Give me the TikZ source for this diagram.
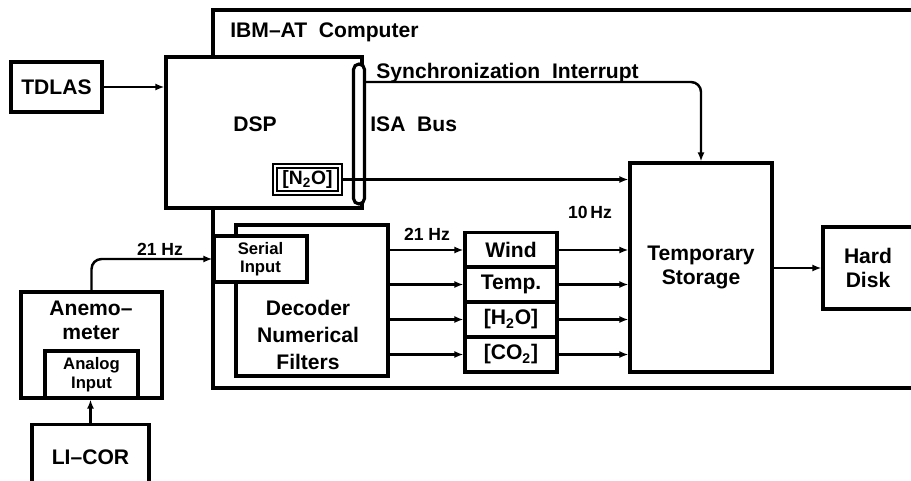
\documentclass[tikz,border=0pt]{standalone}
\usepackage{fontspec}
\setmainfont{Liberation Sans}
\usetikzlibrary{arrows.meta, positioning}

\begin{document}
\begin{tikzpicture}[
                x=0.02cm, y=-0.02cm,
                box/.style={draw, line width=1.8pt, fill=white, inner sep=0pt, align=center, font=\fontsize{12}{14}\selectfont\bfseries},
                smallbox/.style={box, font=\fontsize{9.5}{10.5}\selectfont\bfseries},
                lbl/.style={inner sep=0pt, font=\fontsize{12}{14}\selectfont\bfseries},
                freq/.style={inner sep=0pt, font=\fontsize{10}{11}\selectfont\bfseries},
                arrow/.style={-{Latex[length=0.18cm, width=0.14cm]}, line width=1.4pt}
            ]
                \useasboundingbox (0,0) rectangle (911,480);

                % Rahmen des Rechners
                \draw[line width=1.8pt] (915,10) -- (213,10) -- (213,388) -- (915,388);
                \node[lbl, anchor=west] (ibm) at (230,32) {IBM--AT\ \ Computer};

                % Eingang und DSP
                \node[box, minimum width=1.82cm, minimum height=1.0cm] (tdlas) at (56.5,87) {TDLAS};
                \node[box, minimum width=3.92cm, minimum height=3.02cm] (dsp) at (264,132.5) {};
                \node[lbl] (dsplabel) at (255,124) {DSP};
                \node[draw, line width=1.8pt, fill=white, rounded corners=0.11cm, minimum width=0.22cm, minimum height=2.8cm, inner sep=0pt] (isabus) at (359,134) {};
                \node[box, double, double distance=1.2pt, line width=1.1pt, minimum width=1.3cm, minimum height=0.54cm, font=\fontsize{11}{13}\selectfont\bfseries] (n2o) at (307.5,179.5) {[N\textsubscript{2}O]};
                \node[lbl, anchor=west] (isalabel) at (370,124) {ISA\ \ Bus};

                % Dekoder und Kanaele
                \node[box, minimum width=3.04cm, minimum height=3.02cm] (decoder) at (312,300.5) {};
                \node[lbl, align=center, font=\fontsize{12}{15.5}\selectfont\bfseries] (declabel) at (308,335) {Decoder\\Numerical\\Filters};
                \node[smallbox, minimum width=1.86cm, minimum height=0.92cm] (serial) at (260.5,259) {Serial\\Input};
                \node[box, minimum width=1.84cm, minimum height=0.69cm] (wind) at (511,250) {Wind};
                \node[box, minimum width=1.84cm, minimum height=0.7cm] (temp) at (511,284.5) {Temp.};
                \node[box, minimum width=1.84cm, minimum height=0.7cm] (hto) at (511,319.5) {[H\textsubscript{2}O]};
                \node[box, minimum width=1.84cm, minimum height=0.7cm] (cto) at (511,354.5) {[CO\textsubscript{2}]};

                % Speicher
                \node[box, minimum width=2.84cm, minimum height=4.18cm] (tmp) at (701,267.5) {Temporary\\Storage};
                \node[box, minimum width=1.8cm, minimum height=1.64cm] (disk) at (868,268) {Hard\\Disk};

                % Anemometer und LI-COR
                \node[box, minimum width=2.82cm, minimum height=2.12cm] (anemo) at (91.5,345) {};
                \node[lbl, align=center, font=\fontsize{12}{13.5}\selectfont\bfseries] (anemolabel) at (91,320) {Anemo--\\meter};
                \node[smallbox, minimum width=1.86cm, minimum height=0.94cm] (analog) at (91.5,374.5) {Analog\\Input};
                \node[box, minimum width=2.34cm, minimum height=1.3cm] (licor) at (90.5,457) {LI--COR};

                % Verbindungen
                \coordinate (sync) at (365,82);
                \node[lbl, anchor=base west] (synclabel) at (376,78) {Synchronization\ \ Interrupt};
                \draw[arrow] (tdlas.east) -- (tdlas.east -| dsp.west);
                \draw[arrow, rounded corners=0.2cm] (sync) -| (tmp.north);
                \draw[arrow] (n2o.east) -- (n2o.east -| tmp.west);
                \draw[arrow, rounded corners=0.2cm] (anemo.north) |- (serial.west);
                \draw[arrow] (licor.north) -- (licor.north |- analog.south);
                \foreach \ch in {wind, temp, hto, cto} {
                    \draw[arrow] (\ch.west -| decoder.east) -- (\ch.west);
                    \draw[arrow] (\ch.east) -- (\ch.east -| tmp.west);
                }
                \draw[arrow] (tmp.east |- disk.west) -- (disk.west);

                % Frequenzen
                \node[freq] (fanemo) at (160,249) {21 Hz};
                \node[freq] (fdec) at (427,234) {21 Hz};
                \node[freq] (fstore) at (590,212) {10\,Hz};
            \end{tikzpicture}
\end{document}
